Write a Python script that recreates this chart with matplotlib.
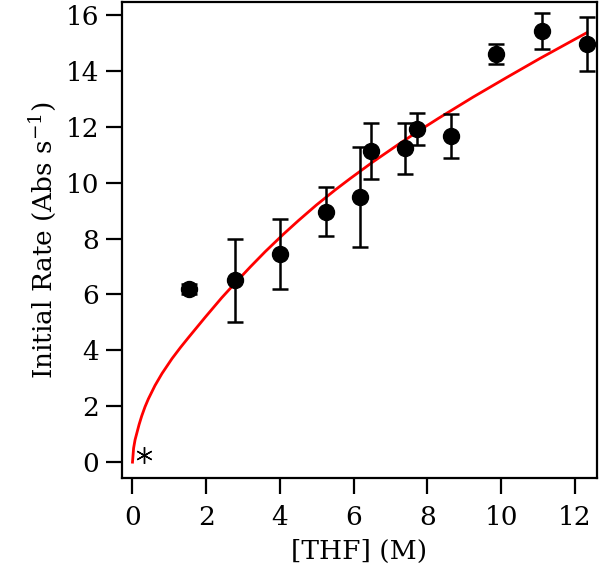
import matplotlib
matplotlib.use("Agg")
import matplotlib.pyplot as plt

# Measured data (points with error bars)
thf = [1.53, 2.78, 4.01, 5.24, 6.17, 6.48, 7.40, 7.71, 8.63, 9.87, 11.10, 12.33]
rate = [6.20, 6.50, 7.46, 8.96, 9.48, 11.14, 11.22, 11.92, 11.66, 14.60, 15.42, 14.97]
rate_err = [0.18, 1.47, 1.25, 0.88, 1.80, 1.00, 0.90, 0.56, 0.78, 0.35, 0.64, 0.96]

# Asterisk point near origin
star_x = [0.31]
star_y = [0.24]

# Fit curve
fit_x = [0.0, 0.03, 0.07, 0.12, 0.18, 0.25, 0.34, 0.43, 0.61, 0.80, 1.07, 1.30,
         1.52, 1.97, 2.42, 2.78, 3.20, 3.60, 4.09, 4.50, 4.99, 5.50, 5.90,
         6.50, 7.25, 7.80, 8.30, 9.24, 10.15, 11.05, 12.32]
fit_y = [0.0, 0.50, 0.80, 1.05, 1.35, 1.65, 1.98, 2.26, 2.74, 3.17, 3.70, 4.10,
         4.46, 5.18, 5.88, 6.40, 6.99, 7.53, 8.15, 8.64, 9.20, 9.74, 10.14,
         10.72, 11.40, 11.88, 12.30, 13.06, 13.76, 14.44, 15.36]

xticks = [0, 2, 4, 6, 8, 10, 12]
yticks = [0, 2, 4, 6, 8, 10, 12, 14, 16]

plt.rcParams['font.family'] = ['DejaVu Serif']
plt.rcParams['mathtext.fontset'] = 'dejavuserif'

fig = plt.figure(figsize=(6.0, 5.76), dpi=100)
ax = fig.add_axes([0.203, 0.170, 0.792, 0.8265])

ax.plot(fit_x, fit_y, color='#ff0000', lw=2.0, zorder=2, solid_joinstyle='round')
ax.errorbar(thf, rate, yerr=rate_err, fmt='o', color='black', ms=11.5,
            elinewidth=1.8, capsize=5.6, capthick=1.8, zorder=3)
ax.plot(star_x, star_y, linestyle='none', marker=(6, 2, 0), ms=12,
        mec='black', mew=1.0, color='black', zorder=3)

ax.set_xlim(-0.29, 12.6)
ax.set_ylim(-0.57, 16.46)
ax.set_xticks(xticks)
ax.set_yticks(yticks)
ax.tick_params(direction='out', length=11.5, width=1.6, labelsize=19)
ax.tick_params(axis='x', pad=8)
ax.tick_params(axis='y', pad=5)
ax.tick_params(top=False, right=False)
for s in ax.spines.values():
    s.set_linewidth(1.6)

ax.set_xlabel('[THF] (M)', fontsize=19, labelpad=6)
ax.set_ylabel('Initial Rate (Abs s$^{\\mathregular{-1}}$)', fontsize=19, labelpad=6)
ax.yaxis.set_label_coords(-0.135, 0.5)

fig.savefig('out.png', dpi=100)
